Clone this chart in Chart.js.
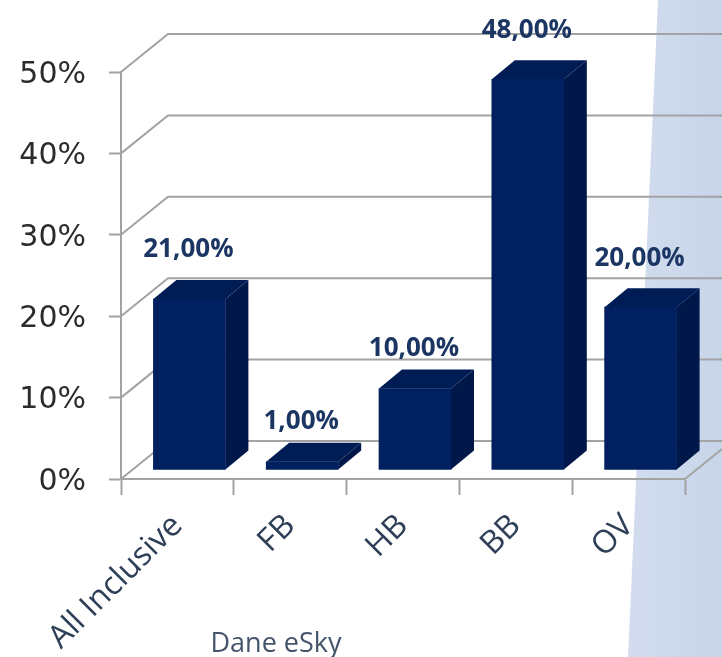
<!DOCTYPE html>
<html>
<head>
<meta charset="utf-8">
<style>
  html, body { margin: 0; padding: 0; background: #fff; overflow: hidden; }
  canvas { display: block; filter: blur(0.4px); }
</style>
<script src="https://cdn.jsdelivr.net/npm/chart.js@4"></script>
</head>
<body>
<canvas id="chart" width="722" height="657"></canvas>
<script>
const categories = ["All Inclusive", "FB", "HB", "BB", "OV"];
const shares = [21, 1, 10, 48, 20];
const yTicks = [0, 10, 20, 30, 40, 50];
const sourceNote = "Dane eSky";

const GRID = "#a3a3a3";
const WALL_DX = 47, WALL_DY = -38;   // back wall offset
const BAR_DX = 12, BAR_DY = -9;      // bars stand on the floor, not on the axis
const SIDE_DX = 23, SIDE_DY = -19;   // bar depth

function poly(ctx, pts, fill) {
  ctx.beginPath();
  pts.forEach((p, i) => (i ? ctx.lineTo(p[0], p[1]) : ctx.moveTo(p[0], p[1])));
  ctx.closePath();
  ctx.fillStyle = fill;
  ctx.fill();
}

/* =========================
   BACKGROUND BAND + 3D WALLS
========================= */
const walls = {
  id: "walls",
  beforeDraw(chart) {
    const { ctx, width, height } = chart;
    const g = ctx.createLinearGradient(630, 0, width, 0);
    g.addColorStop(0, "#d3dcef");
    g.addColorStop(1, "#c7d5e9");
    poly(ctx, [[658, 0], [width, 0], [width, height], [628, height]], g);
  },
  beforeDatasetsDraw(chart) {
    const { ctx, scales: { x, y } } = chart;
    const left = x.left, right = x.right;
    ctx.save();
    ctx.strokeStyle = GRID;
    ctx.lineWidth = 2;
    yTicks.forEach((v) => {
      const py = y.getPixelForValue(v);
      ctx.beginPath();
      ctx.moveTo(left, py);
      ctx.lineTo(left + WALL_DX, py + WALL_DY);
      ctx.lineTo(right + WALL_DX, py + WALL_DY);
      ctx.stroke();
    });
    const base = y.getPixelForValue(0);
    ctx.beginPath();
    ctx.moveTo(right, base);
    ctx.lineTo(right + WALL_DX, base + WALL_DY);
    ctx.stroke();
    ctx.restore();

    // shift the bars back and paint their side and top first
    ctx.save();
    ctx.translate(BAR_DX, BAR_DY);
    chart.getDatasetMeta(0).data.forEach((bar) => {
      const l = bar.x - bar.width / 2, r = bar.x + bar.width / 2;
      poly(ctx, [[r, bar.y], [r + SIDE_DX, bar.y + SIDE_DY], [r + SIDE_DX, bar.base + SIDE_DY], [r, bar.base]], "#001749");
      poly(ctx, [[l, bar.y], [l + SIDE_DX, bar.y + SIDE_DY], [r + SIDE_DX, bar.y + SIDE_DY], [r, bar.y]], "#001c54");
    });
  },
  afterDatasetsDraw(chart) {
    const { ctx } = chart;
    ctx.restore();

    /* value labels */
    ctx.save();
    ctx.font = "bold 26px 'Open Sans'";
    ctx.fillStyle = "#1c3664";
    ctx.textAlign = "center";
    ctx.textBaseline = "middle";
    chart.getDatasetMeta(0).data.forEach((bar, i) => {
      const lift = shares[i] <= 10 ? 40 : 49;
      const text = shares[i].toFixed(2).replace(".", ",") + "%";
      ctx.fillText(text, bar.x + BAR_DX - 1, bar.y + BAR_DY - lift);
    });

    ctx.font = "27px 'Open Sans'";
    ctx.fillStyle = "#44546a";
    ctx.fillText(sourceNote, 276, 644);
    ctx.restore();
  },
};

new Chart(document.getElementById("chart"), {
  type: "bar",
  data: {
    labels: categories,
    datasets: [
      {
        data: shares,
        backgroundColor: "#00205f",
        barThickness: 72,
        clip: false,
      },
    ],
  },
  options: {
    responsive: false,
    animation: false,
    layout: { padding: { top: 72, right: 37, left: 0, bottom: 0 } },
    plugins: { legend: { display: false }, tooltip: { enabled: false } },
    scales: {
      x: {
        afterFit(scale) { scale.height = 178; },
        grid: { drawOnChartArea: false, tickLength: 16, tickColor: GRID, tickWidth: 2 },
        border: { color: GRID, width: 2 },
        ticks: {
          color: "#2f3f58",
          font: { family: "'Open Sans'", size: 32 },
          minRotation: 45,
          maxRotation: 45,
          padding: 12,
          autoSkip: false,
        },
      },
      y: {
        min: 0,
        max: 50,
        afterFit(scale) { scale.width = 121; },
        afterBuildTicks(scale) { scale.ticks = yTicks.map((v) => ({ value: v })); },
        grid: { drawOnChartArea: false, tickLength: 12, tickColor: GRID, tickWidth: 2 },
        border: { color: GRID, width: 2 },
        ticks: {
          color: "#2b2b2b",
          font: { family: "'DejaVu Sans'", size: 30 },
          padding: 23,
          labelOffset: 3,
          callback: (v) => v + "%",
        },
      },
    },
  },
  plugins: [walls],
});
</script>
</body>
</html>
